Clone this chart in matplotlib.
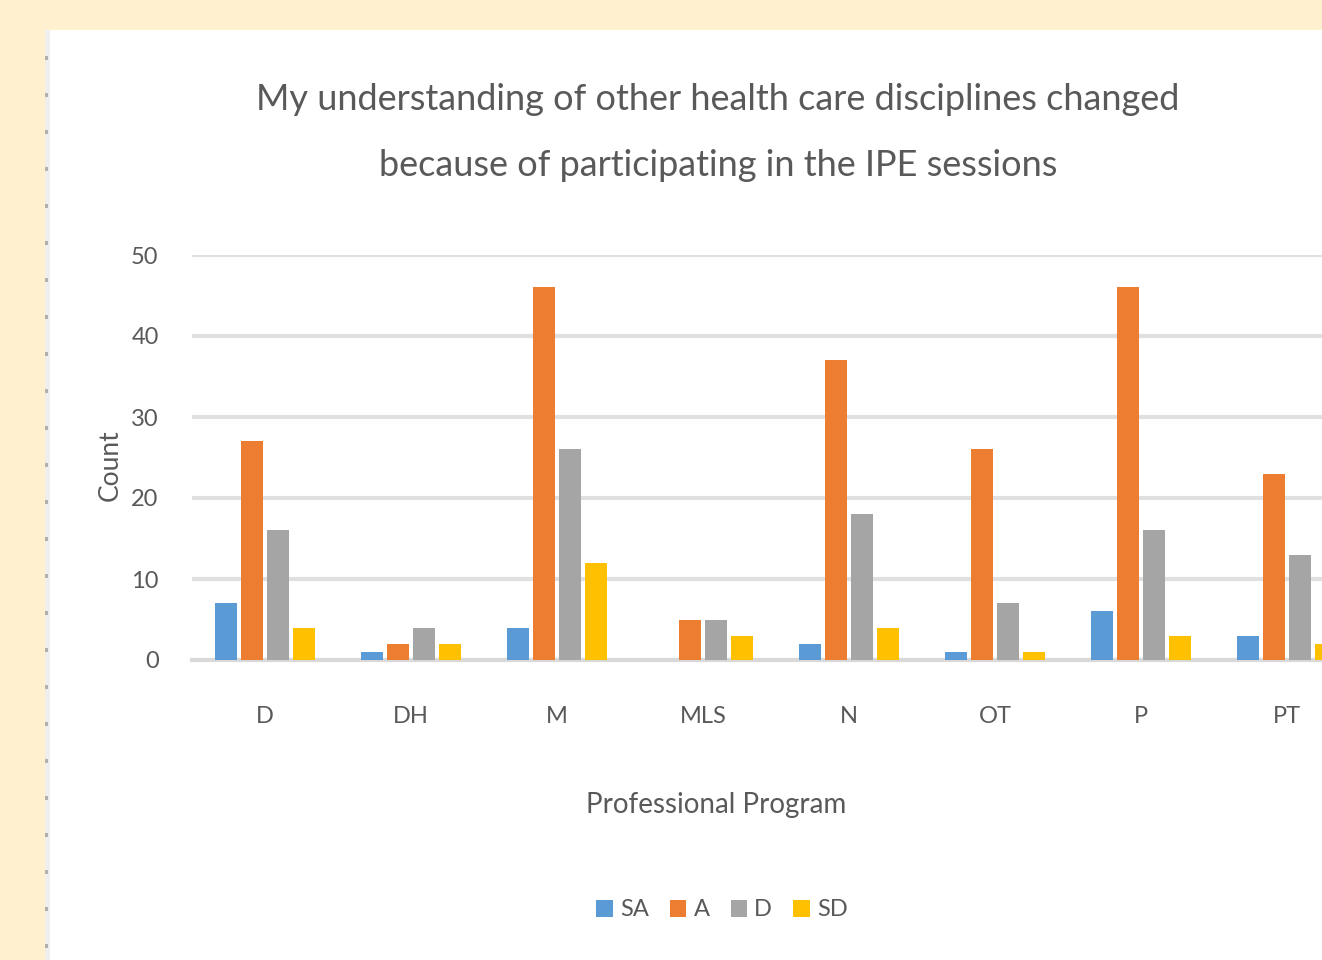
import matplotlib
matplotlib.use("Agg")
import matplotlib.pyplot as plt
import numpy as np
from matplotlib.patches import Rectangle

programs = ["D", "DH", "M", "MLS", "N", "OT", "P", "PT"]
series_names = ["SA", "A", "D", "SD"]
sa = [7, 1, 4, 0, 2, 1, 6, 3]
a = [27, 2, 46, 5, 37, 26, 46, 23]
d = [16, 4, 26, 5, 18, 7, 16, 13]
sd = [4, 2, 12, 3, 4, 1, 3, 2]
yticks = [0, 10, 20, 30, 40, 50]
colors = ["#5B9BD5", "#ED7D31", "#A5A5A5", "#FFC000"]

plt.rcParams['font.family'] = ['Lato', 'DejaVu Sans']
txt = "#595959"

fig = plt.figure(figsize=(13.22, 9.6), dpi=100)
fig.patch.set_facecolor("#FFF1D0")
# white panel
fig.patches.append(Rectangle((45/1322, 0), 1, 930/960, transform=fig.transFigure,
                             facecolor="white", edgecolor="none", zorder=-10))
fig.patches.append(Rectangle((45/1322, 0), 5/1322, 930/960, transform=fig.transFigure,
                             facecolor="#EFEFEF", edgecolor="none", zorder=-9))
for yy in np.arange(60, 960, 37):
    fig.patches.append(Rectangle((45/1322, 1 - yy/960), 3/1322, 4/960, transform=fig.transFigure,
                                 facecolor="#B0B0B0", edgecolor="none", zorder=-8))

ax = fig.add_axes([192/1322, 300/960, 1168/1322, 405/960])
ax.set_facecolor("none")
x = np.arange(len(programs))
w = 0.145
step = 0.178
for i, (vals, c) in enumerate(zip([sa, a, d, sd], colors)):
    ax.bar(x + (i - 1.5) * step, vals, width=w, color=c, label=series_names[i], zorder=3)

ax.set_xlim(-0.5, len(programs) - 0.5)
ax.set_ylim(0, 50)
ax.set_yticks(yticks)
ax.set_yticklabels([str(t) for t in yticks], fontsize=17, color=txt)
ax.set_xticks(x)
ax.set_xticklabels(programs, fontsize=17, color=txt)
ax.tick_params(axis='y', length=0, pad=24)
ax.tick_params(axis='x', length=0, pad=33)
ax.grid(axis='y', color="#E0E0E0", linewidth=3, zorder=0)
for s in ["top", "right", "left"]:
    ax.spines[s].set_visible(False)
ax.spines["bottom"].set_color("#D9D9D9")
ax.spines["bottom"].set_linewidth(3)
ax.set_axisbelow(True)

fig.text(110/1322, 1 - 465/960, "Count", rotation=90, fontsize=19, color=txt, ha='center', va='center')
fig.text(716/1322, 1 - 805/960, "Professional Program", fontsize=20, color=txt, ha='center', va='center')
fig.text(718/1322, 1 - 100/960, "My understanding of other health care disciplines changed",
         fontsize=26, color=txt, ha='center', va='center')
fig.text(718/1322, 1 - 165/960, "because of participating in the IPE sessions",
         fontsize=26, color=txt, ha='center', va='center')

handles, labels = ax.get_legend_handles_labels()
fig.legend(handles, labels, loc='center', bbox_to_anchor=(722/1322, 1 - 910/960), ncol=4,
           frameon=False, fontsize=17, labelcolor=txt, handlelength=0.7, handleheight=0.7,
           handletextpad=0.3, columnspacing=0.9)

fig.savefig("out.png", dpi=100, facecolor=fig.get_facecolor())
